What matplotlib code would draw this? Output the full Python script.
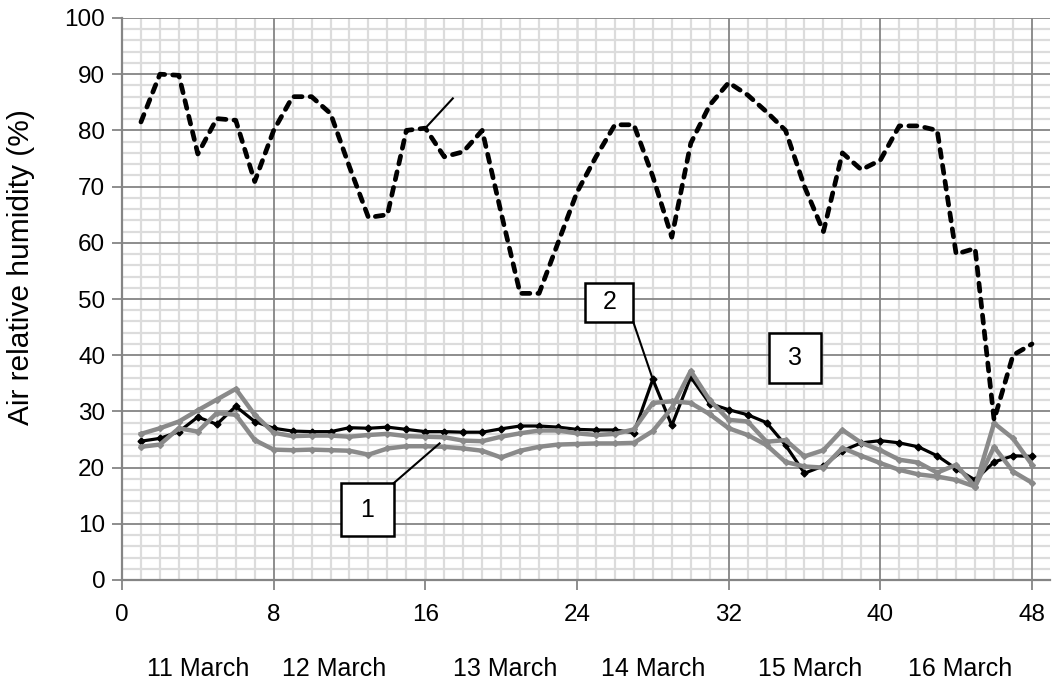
import numpy as np
import matplotlib
matplotlib.use("Agg")
import matplotlib.pyplot as plt
from matplotlib.ticker import MultipleLocator
from matplotlib.patches import Rectangle
from matplotlib.transforms import blended_transform_factory

plt.rcParams['font.family'] = ['Liberation Sans', 'DejaVu Sans']

# hourly readings, 8 per day over six days
hours = np.arange(1, 49)

rh_outdoor = [81.5, 90, 89.8, 75.8, 82.1, 81.8, 70.9, 80, 86, 86,
              83, 73.5, 64.5, 65, 80, 80.4, 75.3, 76.2, 80, 65.3,
              51, 51, 60, 69, 75.3, 81, 81, 71.8, 61, 77.7,
              84.5, 88.5, 86.3, 83.3, 80, 70, 62, 76, 73, 74.7,
              80.8, 80.8, 80, 58, 59, 28.5, 40, 42]

rh_black = [24.7, 25.2, 26.4, 29, 27.7, 30.9, 28.2, 27, 26.5, 26.4,
            26.4, 27.1, 27, 27.2, 26.8, 26.4, 26.4, 26.3, 26.3, 26.9,
            27.4, 27.4, 27.2, 26.8, 26.7, 26.7, 26.2, 35.7, 27.5, 36.1,
            31.4, 30.3, 29.4, 28, 24, 19, 20.3, 23, 24.4, 24.8,
            24.4, 23.7, 22.1, 19.8, 17.8, 21, 22.1, 22]

rh_grey_a = [26, 27, 28.2, 30.2, 32.1, 34, 29.4, 26.2, 25.6, 25.7,
             25.7, 25.5, 25.8, 26, 25.6, 25.5, 25.4, 24.8, 24.7, 25.5,
             26.1, 26.6, 26.6, 26.1, 25.8, 26, 26.8, 31.5, 31.8, 31.5,
             29.5, 27, 25.8, 24, 21, 20.2, 20, 23.5, 22.1, 20.8,
             19.6, 18.8, 18.4, 17.8, 16.6, 23.7, 19.3, 17.3]

rh_grey_b = [23.7, 24.1, 27, 26.4, 29.7, 29.4, 24.9, 23.2, 23.1, 23.2,
             23.1, 23, 22.3, 23.4, 23.8, 23.8, 23.7, 23.4, 23, 21.8,
             23, 23.7, 24.1, 24.2, 24.3, 24.3, 24.4, 26.5, 30.6, 37.2,
             32, 28.5, 28.2, 24.6, 24.9, 22, 23.1, 26.7, 24.4, 23.1,
             21.4, 20.9, 19.1, 20.5, 16.6, 27.9, 25.2, 20.5]

days = ['11 March', '12 March', '13 March', '14 March', '15 March', '16 March']

fig = plt.figure(figsize=(10.52, 6.86), dpi=100)
ax = fig.add_axes([122 / 1052, 106 / 686, 928 / 1052, 562 / 686])

ax.set_xlim(0, 48.95)
ax.set_ylim(0, 100)
ax.xaxis.set_major_locator(MultipleLocator(8))
ax.xaxis.set_minor_locator(MultipleLocator(1))
ax.yaxis.set_major_locator(MultipleLocator(10))
ax.yaxis.set_minor_locator(MultipleLocator(2))

# light grid from the axis, darker main lines laid on top of it
ax.set_axisbelow(True)
ax.grid(which='minor', color='#dcdcdc', lw=1.6)
ax.grid(which='major', visible=False)
light = dict(color='#dcdcdc', lw=1.8, zorder=1)
dark = dict(color='#858585', lw=1.3, zorder=1.2)
for v in range(10, 101, 10):
    ax.axhline(v, **dark)
for v in range(8, 49, 8):
    ax.axvline(v, **(light if v in (16, 24) else dark))
for tick in ax.xaxis.get_major_ticks():
    if tick.get_loc() in (16, 24):
        tick.tick1line.set_visible(False)

for side in ('top', 'right'):
    ax.spines[side].set_visible(False)
for side in ('left', 'bottom'):
    ax.spines[side].set_color('#858585')
    ax.spines[side].set_linewidth(1.6)
    ax.spines[side].set_zorder(1.3)

ax.tick_params(which='minor', length=0)
ax.tick_params(axis='both', which='major', labelsize=17.5, length=7,
               width=1.3, color='#858585', labelcolor='black')
ax.tick_params(axis='x', pad=10)
ax.tick_params(axis='y', pad=5)

ax.plot(hours, rh_black, color='black', lw=2.3, marker='D', ms=3.5, zorder=3)
ax.plot(hours, rh_grey_a, color='#8a8a8a', lw=3.2, marker='D', ms=3, zorder=4)
ax.plot(hours, rh_grey_b, color='#8a8a8a', lw=3.2, marker='D', ms=3, zorder=4)
ax.plot(hours, rh_outdoor, color='black', lw=3.4, dashes=(1.7, 1.7),
        dash_capstyle='round', zorder=5)

fig.text(21 / 1052, 1 - 267 / 686, 'Air relative humidity (%)', rotation=90,
         ha='center', va='center', fontsize=21.5)

trans = blended_transform_factory(ax.transData, fig.transFigure)
for x, s in zip([4.0, 11.2, 20.2, 28.0, 36.3, 44.2], days):
    ax.text(x, 1 - 669 / 686, s, transform=trans, ha='center', va='center',
            fontsize=18, color='black')


def label_box(cx, cy, w, h, s):
    ax.add_patch(Rectangle((cx - w / 2, cy - h / 2), w, h, facecolor='white',
                           edgecolor='black', lw=1.8, zorder=6))
    ax.text(cx, cy, s, ha='center', va='center', fontsize=18, zorder=7)


label_box(12.95, 12.5, 2.75, 9.4, '1')
label_box(25.7, 49.4, 2.55, 6.9, '2')
label_box(35.5, 39.5, 2.7, 8.9, '3')

# leader lines
ax.plot([14.32, 16.75], [17.2, 24.3], color='black', lw=1.5, zorder=6)
ax.plot([26.97, hours[27]], [45.9, rh_black[27]], color='black', lw=1.5, zorder=6)
ax.plot([hours[15], 17.45], [rh_outdoor[15], 85.7], color='black', lw=1.5, zorder=6)

fig.savefig('out.png', dpi=100)
